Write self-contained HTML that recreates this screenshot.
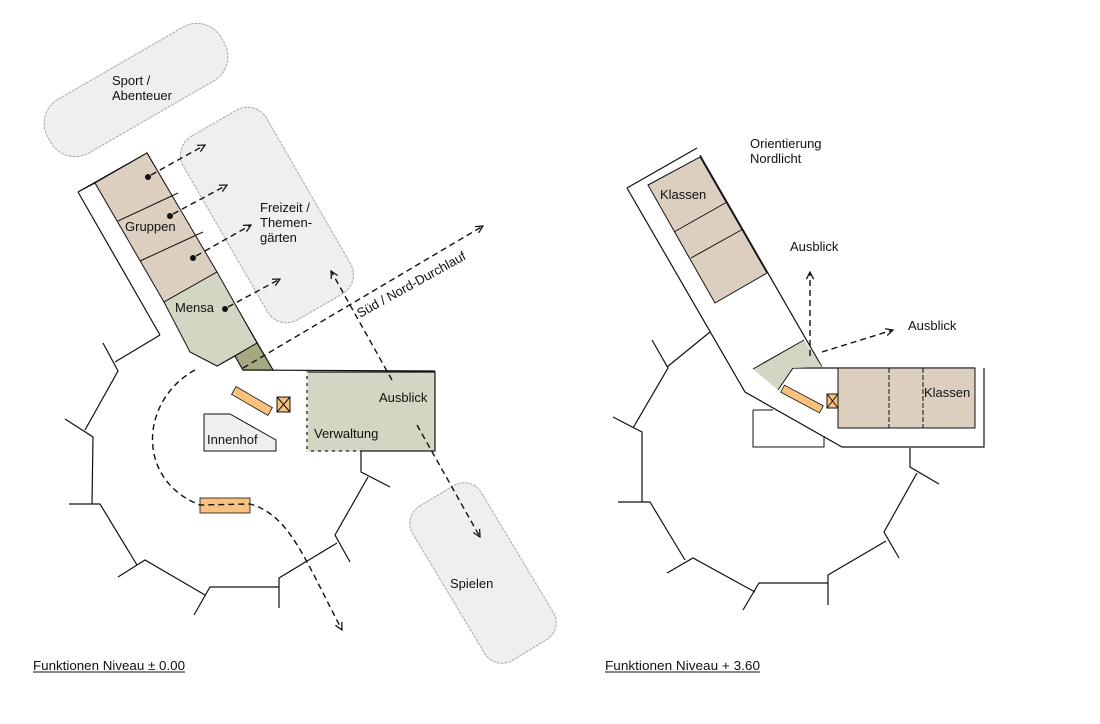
<!DOCTYPE html>
<html><head><meta charset="utf-8"><style>
html,body{margin:0;padding:0;background:#fff;}
svg{display:block;}
text{font-family:"Liberation Sans",sans-serif;font-size:13px;fill:#111;}
</style></head><body>
<svg width="1100" height="724" viewBox="0 0 1100 724" xmlns="http://www.w3.org/2000/svg">
<defs>
<marker id="ah" viewBox="0 0 10 10" refX="9" refY="5" markerWidth="9" markerHeight="9" orient="auto-start-reverse" markerUnits="userSpaceOnUse">
<path d="M1,1 L9,5 L1,9" fill="none" stroke="#111" stroke-width="1.4"/>
</marker>
</defs>
<g fill="#efefef" stroke="#aaa" stroke-width="1" stroke-dasharray="3,1">
<rect x="-100" y="-31" width="200" height="62" rx="28" transform="translate(136,90) rotate(-30)"/>
<rect x="-48" y="-106" width="96" height="212" rx="22" transform="translate(267,215) rotate(-30)"/>
<rect x="-40" y="-90" width="80" height="180" rx="20" transform="translate(483,573) rotate(-31)"/>
</g>
<text x="112" y="85">Sport /</text><text x="112" y="100">Abenteuer</text>
<text x="260" y="212">Freizeit /</text><text x="260" y="227">Themen-</text><text x="260" y="242">gärten</text>
<text x="450" y="588">Spielen</text>

<g fill="none" stroke="#111" stroke-width="1.2">
<path d="M160,335 L115,362 M103,343 L118,371 L85,430 M65,419 L93,437 L92,504 M69,504 L100,504 L137,565 M118,577 L145,560 L205,595 M194,615 L210,587 L279,587 M279,608 L279,578 L337,543 M350,562 L335,535 L368,477 M390,487 L361,472 L361,451"/>
</g>
<polygon points="78,192 147,153 273,370 243,370 235,356 217,366 95,183" fill="#fff" stroke="#111" stroke-width="1.2"/>
<polygon points="95,183 147,153 217,272 164,302" fill="#dccfc0" stroke="#111" stroke-width="1"/>
<polygon points="164,302 217,272 257,343 217,366 190,352" fill="#d3d6c2" stroke="#111" stroke-width="1"/>
<polygon points="235,356 257,343 273,370 243,370" fill="#a6a882" stroke="#111" stroke-width="1"/>
<line x1="118" y1="221" x2="178" y2="193" stroke="#111"/>
<line x1="140" y1="261" x2="203" y2="232" stroke="#111"/>
<line x1="78" y1="192" x2="160" y2="335" stroke="#111" stroke-width="1.2"/>
<line x1="243" y1="370" x2="435" y2="371" stroke="#111" stroke-width="1.2"/>
<rect x="307" y="372" width="128" height="79" fill="#d3d6c2" stroke="#111" stroke-width="1.2"/>
<line x1="307" y1="372" x2="307" y2="451" stroke="#fff" stroke-width="1.5" stroke-dasharray="4,3"/>
<line x1="307" y1="451" x2="360" y2="451" stroke="#fff" stroke-width="1" stroke-dasharray="4,3"/>
<polygon points="204,414 230,414 276,440 276,451 204,451" fill="#efefef" stroke="#111"/>
<rect x="-21" y="-4.5" width="42" height="9" fill="#f8c27e" stroke="#111" stroke-width="0.8" transform="translate(252,401) rotate(30)"/>
<rect x="277" y="397" width="13" height="15" fill="#f8c27e" stroke="#111"/>
<path d="M277,397 L290,412 M290,397 L277,412" stroke="#111"/>
<rect x="200" y="498" width="50" height="15" fill="#f8c27e" stroke="#111" stroke-width="0.8"/>
<g fill="#111"><circle cx="148" cy="177" r="3"/><circle cx="170" cy="216" r="3"/><circle cx="193" cy="258" r="3"/><circle cx="225" cy="309" r="3"/></g>
<g fill="none" stroke="#111" stroke-width="1.4" stroke-dasharray="6,4">
<line x1="151" y1="175" x2="205" y2="145" marker-end="url(#ah)"/>
<line x1="173" y1="214" x2="227" y2="185" marker-end="url(#ah)"/>
<line x1="196" y1="256" x2="251" y2="225" marker-end="url(#ah)"/>
<line x1="228" y1="307" x2="280" y2="279" marker-end="url(#ah)"/>
<line x1="243" y1="368" x2="483" y2="226" marker-end="url(#ah)"/>
<line x1="392" y1="380" x2="331" y2="271" marker-end="url(#ah)"/>
<line x1="417" y1="425" x2="480" y2="537" marker-end="url(#ah)"/>
<path d="M195,370 C140,400 135,480 200,505 L250,504 C290,515 305,560 342,630" marker-end="url(#ah)"/>
</g>
<text x="125" y="231">Gruppen</text>
<text x="175" y="312">Mensa</text>
<text x="379" y="402">Ausblick</text>
<text x="314" y="438">Verwaltung</text>
<text x="207" y="444">Innenhof</text>
<text transform="translate(360,318) rotate(-29)">Süd / Nord-Durchlauf</text>

<g fill="none" stroke="#111" stroke-width="1.2">
<path d="M710,332 L667,367 M652,340 L668,368 L633,428 M613,417 L642,432 L642,502 M618,502 L650,502 L685,560 M667,573 L693,558 L755,592 M743,610 L759,583 L828,583 M828,605 L828,575 L886,541 M899,558 L884,532 L917,473 M939,484 L910,467 L910,448"/>
<path d="M627,188 L697,148 M627,188 L745,392 L842,447 L984,447 L984,368"/>
<path d="M700,155 L822,367"/>
<path d="M793,368 L975,368"/>
</g>
<polygon points="648,185 700,157 767,273 715,303" fill="#dccfc0" stroke="#111"/>
<line x1="674" y1="232" x2="727" y2="202" stroke="#111"/>
<line x1="691" y1="258" x2="743" y2="229" stroke="#111"/>
<polygon points="753,369 804,340 822,367 793,368 778,390" fill="#d3d6c2" stroke="none"/>
<line x1="753" y1="369" x2="804" y2="340" stroke="#111"/>
<line x1="793" y1="368" x2="778" y2="390" stroke="#111"/>
<rect x="838" y="368" width="137" height="60" fill="#dccfc0" stroke="#111"/>
<line x1="889" y1="368" x2="889" y2="428" stroke="#111" stroke-dasharray="5,2"/>
<line x1="923" y1="368" x2="923" y2="428" stroke="#111" stroke-dasharray="5,2"/>
<polyline points="753,410 753,447 824,447 824,436" fill="none" stroke="#111"/>
<line x1="753" y1="410" x2="773" y2="410" stroke="#111"/>
<rect x="-22" y="-4" width="44" height="8" fill="#f8c27e" stroke="#111" stroke-width="0.8" transform="translate(802,399) rotate(28)"/>
<rect x="827" y="394" width="11" height="14" fill="#f8c27e" stroke="#111"/>
<path d="M827,394 L838,408 M838,394 L827,408" stroke="#111"/>
<g fill="none" stroke="#111" stroke-width="1.4" stroke-dasharray="6,4" marker-end="url(#ah)">
<line x1="810" y1="356" x2="810" y2="272"/>
<line x1="822" y1="352" x2="893" y2="330"/>
</g>
<text x="660" y="199">Klassen</text>
<text x="924" y="397">Klassen</text>
<text x="790" y="251">Ausblick</text>
<text x="908" y="330">Ausblick</text>
<text x="750" y="148">Orientierung</text>
<text x="750" y="163">Nordlicht</text>

<text x="33" y="670" textLength="152" lengthAdjust="spacingAndGlyphs">Funktionen Niveau ± 0.00</text>
<line x1="33" y1="672" x2="185" y2="672" stroke="#111"/>
<text x="605" y="670" textLength="155" lengthAdjust="spacingAndGlyphs">Funktionen Niveau + 3.60</text>
<line x1="605" y1="672" x2="760" y2="672" stroke="#111"/>
</svg>
</body></html>
